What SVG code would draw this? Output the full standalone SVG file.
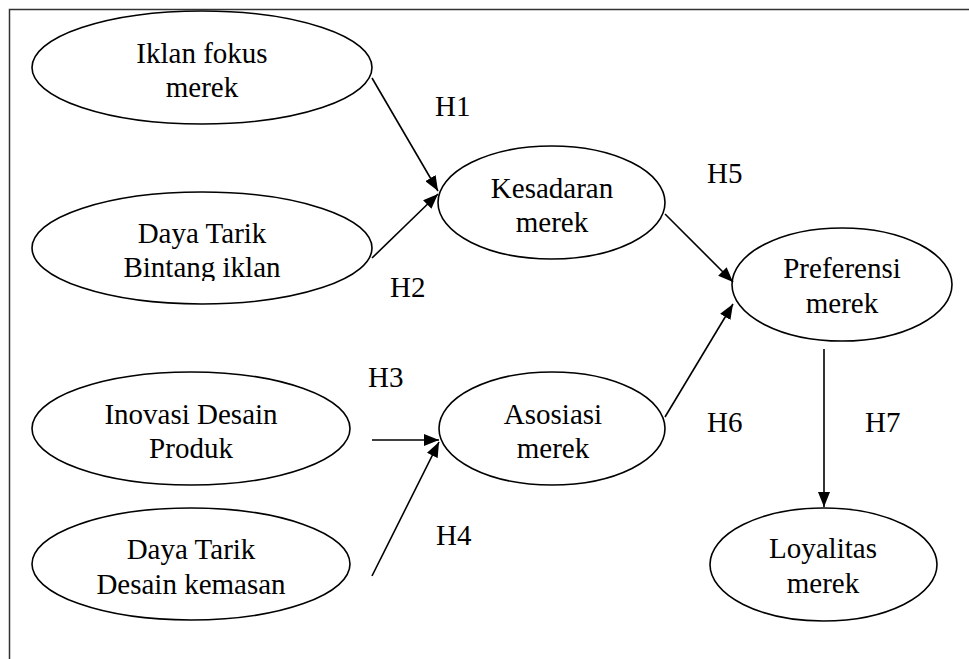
<svg xmlns="http://www.w3.org/2000/svg" width="969" height="659" viewBox="0 0 969 659">
  <style>
    .node ellipse { fill: #ffffff; stroke: #000000; stroke-width: 1.6; }
    .lbl { font-family: "Liberation Serif", "Times New Roman", serif; font-size: 29px; fill: #000000; text-anchor: middle; }
    .hyp { font-family: "Liberation Serif", "Times New Roman", serif; font-size: 29px; fill: #000000; }
    .edge { stroke: #000000; stroke-width: 1.6; fill: none; marker-end: url(#arrow); }
  </style>
  <defs>
    <marker id="arrow" viewBox="0 0 15 12" refX="15" refY="6" markerWidth="15" markerHeight="12" markerUnits="userSpaceOnUse" orient="auto">
      <path d="M0,0 L15,6 L0,12 Z" fill="#000000"/>
    </marker>
    <clipPath id="cutBintang">
      <rect x="0" y="0" width="969" height="281"/>
    </clipPath>
  </defs>

  <rect width="969" height="659" fill="#ffffff"/>
  <!-- outer frame, open past the right and bottom edges -->
  <rect x="9.5" y="9.5" width="980" height="680" fill="none" stroke="#333333" stroke-width="1.5"/>

  <g id="n-iklan" class="node">
    <ellipse cx="202" cy="67.5" rx="170" ry="56.5"/>
    <text class="lbl" x="202" y="63">Iklan fokus</text>
    <text class="lbl" x="202" y="97">merek</text>
  </g>
  <g id="n-bintang" class="node">
    <ellipse cx="202" cy="248" rx="170" ry="56"/>
    <text class="lbl" x="202" y="243">Daya Tarik</text>
    <text class="lbl" x="202" y="277" clip-path="url(#cutBintang)">Bintang iklan</text>
  </g>
  <g id="n-inovasi" class="node">
    <ellipse cx="191" cy="428.5" rx="159" ry="56.5"/>
    <text class="lbl" x="191" y="424">Inovasi Desain</text>
    <text class="lbl" x="191" y="458">Produk</text>
  </g>
  <g id="n-kemasan" class="node">
    <ellipse cx="191" cy="564" rx="159" ry="56"/>
    <text class="lbl" x="191" y="559">Daya Tarik</text>
    <text class="lbl" x="191" y="594">Desain kemasan</text>
  </g>
  <g id="n-kesadaran" class="node">
    <ellipse cx="551.5" cy="202.5" rx="113.5" ry="56.5"/>
    <text class="lbl" x="552" y="198">Kesadaran</text>
    <text class="lbl" x="552" y="232">merek</text>
  </g>
  <g id="n-asosiasi" class="node">
    <ellipse cx="552" cy="428.5" rx="113" ry="56.5"/>
    <text class="lbl" x="553" y="424">Asosiasi</text>
    <text class="lbl" x="553" y="458">merek</text>
  </g>
  <g id="n-preferensi" class="node">
    <ellipse cx="842" cy="284.5" rx="110" ry="56.5"/>
    <text class="lbl" x="842" y="278">Preferensi</text>
    <text class="lbl" x="842" y="313">merek</text>
  </g>
  <g id="n-loyalitas" class="node">
    <ellipse cx="823.5" cy="564.5" rx="113.5" ry="56.5"/>
    <text class="lbl" x="823" y="558">Loyalitas</text>
    <text class="lbl" x="823" y="593">merek</text>
  </g>

  <g id="connectors">
    <line class="edge" x1="372" y1="78" x2="438" y2="191"/>
    <line class="edge" x1="372" y1="258" x2="438" y2="194"/>
    <line class="edge" x1="372" y1="440" x2="439" y2="440"/>
    <line class="edge" x1="372" y1="576" x2="439" y2="442"/>
    <line class="edge" x1="665" y1="214" x2="733" y2="282"/>
    <line class="edge" x1="665" y1="417" x2="733" y2="304"/>
    <line class="edge" x1="824" y1="349" x2="824" y2="507"/>
  </g>

  <g id="hypotheses">
    <text class="hyp" x="435" y="116">H1</text>
    <text class="hyp" x="390" y="297">H2</text>
    <text class="hyp" x="368" y="387">H3</text>
    <text class="hyp" x="436" y="545">H4</text>
    <text class="hyp" x="707" y="183">H5</text>
    <text class="hyp" x="707" y="432">H6</text>
    <text class="hyp" x="865" y="432">H7</text>
  </g>
</svg>
